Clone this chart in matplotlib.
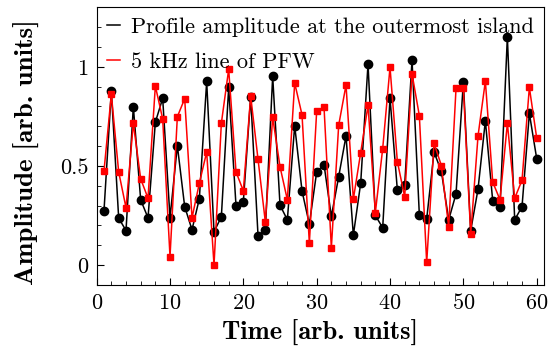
import numpy as np
import matplotlib
matplotlib.use('Agg')
import matplotlib.pyplot as plt
from matplotlib.ticker import MultipleLocator
from matplotlib.lines import Line2D

plt.rcParams['font.family'] = 'serif'
plt.rcParams['font.serif'] = ['cmr10']
plt.rcParams['mathtext.fontset'] = 'cm'
plt.rcParams['axes.formatter.use_mathtext'] = True

# Данные
time = np.arange(1, 61)
profile = [0.275, 0.879, 0.237, 0.174, 0.799, 0.329, 0.238, 0.72, 0.841, 0.238,
           0.602, 0.295, 0.178, 0.335, 0.926, 0.168, 0.243, 0.896, 0.299, 0.320,
           0.849, 0.149, 0.178, 0.952, 0.302, 0.228, 0.703, 0.374, 0.206, 0.47,
           0.507, 0.245, 0.446, 0.651, 0.151, 0.413, 1.014, 0.25, 0.188, 0.842,
           0.378, 0.404, 1.034, 0.252, 0.232, 0.570, 0.473, 0.228, 0.359, 0.923,
           0.173, 0.383, 0.728, 0.325, 0.292, 1.151, 0.228, 0.295, 0.765, 0.537]
pfw = [0.475, 0.861, 0.470, 0.289, 0.715, 0.435, 0.337, 0.903, 0.737, 0.043,
       0.748, 0.839, 0.238, 0.413, 0.570, 0.0, 0.715, 0.987, 0.47, 0.374,
       0.852, 0.534, 0.217, 0.745, 0.496, 0.329, 0.918, 0.758, 0.111, 0.777,
       0.797, 0.087, 0.705, 0.908, 0.332, 0.567, 0.806, 0.265, 0.587, 0.997,
       0.522, 0.344, 0.965, 0.753, 0.013, 0.614, 0.502, 0.193, 0.891, 0.891,
       0.156, 0.651, 0.928, 0.419, 0.329, 0.715, 0.337, 0.428, 0.896, 0.641]
labels = ['Profile amplitude at the outermost island', '5 kHz line of PFW']

fig = plt.figure(figsize=(5.54, 3.47), dpi=100)
ax = fig.add_axes([0.1745, 0.179, 0.8075, 0.8])

ax.plot(time, profile, color='black', lw=1.1, marker='o', ms=6)
ax.plot(time, pfw, color='red', lw=1.1, marker='s', ms=5)

ax.set_xlim(0, 61)
ax.set_ylim(-0.1, 1.3)
ax.xaxis.set_major_locator(MultipleLocator(10))
ax.xaxis.set_minor_locator(MultipleLocator(2))
ax.yaxis.set_major_locator(MultipleLocator(0.5))
ax.yaxis.set_minor_locator(MultipleLocator(0.1))
ax.yaxis.set_major_formatter(plt.FuncFormatter(lambda v, p: '%g' % v))
ax.tick_params(which='both', direction='in', top=False, right=False, labelsize=16)
ax.tick_params(which='major', length=5, pad=6)
ax.tick_params(which='minor', length=3)

ax.set_xlabel('Time [arb. units]', fontsize=19, family='cmb10')
ax.set_ylabel('Amplitude [arb. units]', fontsize=19.5, family='cmb10')
# положение подписей осей (в долях осей)
ax.xaxis.set_label_coords(0.5, -0.127)
ax.yaxis.set_label_coords(-0.155, 0.477)
ax.xaxis.label.set_va('top')
ax.yaxis.label.set_va('center')

handles = [Line2D([], [], color='black', lw=1.1), Line2D([], [], color='red', lw=1.1)]
ax.legend(handles, labels, loc='upper left', frameon=False, fontsize=16,
          handlelength=0.6, handletextpad=0.5, borderaxespad=0.05, labelspacing=0.68)

fig.savefig('out.png', dpi=100)
